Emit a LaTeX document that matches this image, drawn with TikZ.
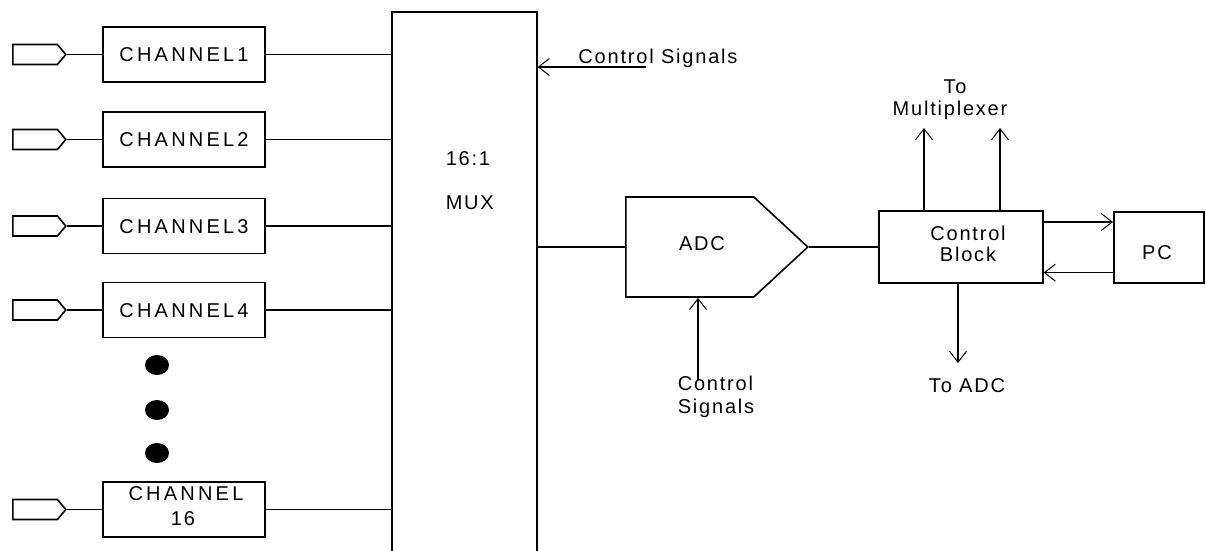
\documentclass[tikz,border=0pt]{standalone}
\usepackage{fontspec}
\setmainfont{Liberation Sans}
\newfontfamily\lblfont[LetterSpace=9]{Liberation Sans}
\newfontfamily\chfont[LetterSpace=16]{Liberation Sans}
\usetikzlibrary{arrows.meta,shapes.symbols}
\begin{document}
\begin{tikzpicture}[x=1pt,y=-1pt,line width=1.6pt,
  txt/.style={inner sep=0pt,text height=14.3pt,text depth=0pt,font=\fontsize{20}{24}\lblfont},
  chbox/.style={draw,rectangle,minimum width=162pt,minimum height=55pt,inner sep=0pt,
     text height=14.3pt,text depth=0pt,font=\fontsize{20}{24}\chfont},
  port/.style={draw,signal,signal to=east,signal pointer angle=100,
     minimum width=53pt,minimum height=20pt,inner sep=0pt,anchor=west},
  arr/.style={-{Straight Barb[length=11pt,width=17pt,line width=1pt]}},
  plainbox/.style={draw,rectangle,inner sep=0pt}]
\useasboundingbox (0,0) rectangle (1206,550);

% inputs and channels
\foreach \i/\y/\t in {1/54.5/CHANNEL1,2/139.5/CHANNEL2,3/226/CHANNEL3,4/310/CHANNEL4}{
  \node[port] (p\i) at (12,\y) {};
  \node[chbox] (ch\i) at (184,\y) {\t};
}
\node[port] (p16) at (12,509.5) {};
\node[chbox] (ch16) at (184,509.5) {};
\node[txt,font=\fontsize{20}{24}\chfont] (ch16a) at (186,493) {CHANNEL};
\node[txt] (ch16b) at (183,518) {16};

% MUX
\node[plainbox,minimum width=145pt,minimum height=600pt,anchor=north west] (mux) at (391,11) {};
\node[txt,anchor=west] (muxa) at (445,158) {16:1};
\node[txt,anchor=west] (muxb) at (445,202) {MUX};

\foreach \i in {1,2,3,4,16}{
  \draw (p\i.east) -- (ch\i.west);
  \draw (ch\i.east) -- (ch\i.east -| mux.west);
}

% dots
\fill (157,365) ellipse [x radius=12pt,y radius=10pt];
\fill (157,410) ellipse [x radius=12pt,y radius=10pt];
\fill (157,453) ellipse [x radius=12pt,y radius=10pt];

% control signals to MUX
\coordinate (cst) at (646,67);
\draw[arr] (cst) -- (cst -| mux.east);
\node[txt] (cstl) at (658,56) {Control Signals};

% ADC
\node[draw,signal,signal to=east,signal pointer angle=85.6,minimum width=182pt,
      minimum height=100pt,inner sep=0pt,anchor=west] (adc) at (625,247) {};
\node[txt] (adct) at (702,243) {ADC};
\draw (mux.east |- adc.west) -- (adc.west);
\coordinate (csb) at (698,380);
\draw[arr] (csb) -- (csb |- adc.south);
\node[txt,anchor=west] (csba) at (677,383) {Control};
\node[txt,anchor=west] (csbb) at (677,406) {Signals};

% control block
\node[plainbox,minimum width=164pt,minimum height=72pt,anchor=north west] (cb) at (878,210) {};
\node[txt] (cba) at (968,233) {Control};
\node[txt] (cbb) at (968,254) {Block};
\draw (adc.east) -- (adc.east -| cb.west);

% PC
\node[plainbox,minimum width=90pt,minimum height=71pt,anchor=north west] (pc) at (1113,211) {};
\node[txt] (pct) at (1157,252) {PC};
\draw[arr] ([yshift=-12pt]cb.north east) -- ([yshift=-12pt]cb.north east -| pc.west);
\draw[arr] ([yshift=11pt]pc.south west) -- ([yshift=11pt]pc.south west -| cb.east);

% to multiplexer
\coordinate (um1) at (924,128);
\coordinate (um2) at (1000,128);
\draw[arr] (um1 |- cb.north) -- (um1);
\draw[arr] (um2 |- cb.north) -- (um2);
\node[txt] (tm1) at (955,86) {To};
\node[txt] (tm2) at (950,108) {Multiplexer};

% to ADC
\coordinate (ta) at (958,363);
\draw[arr] (ta |- cb.south) -- (ta);
\node[txt] (tat) at (967,385) {To ADC};
\end{tikzpicture}
\end{document}
